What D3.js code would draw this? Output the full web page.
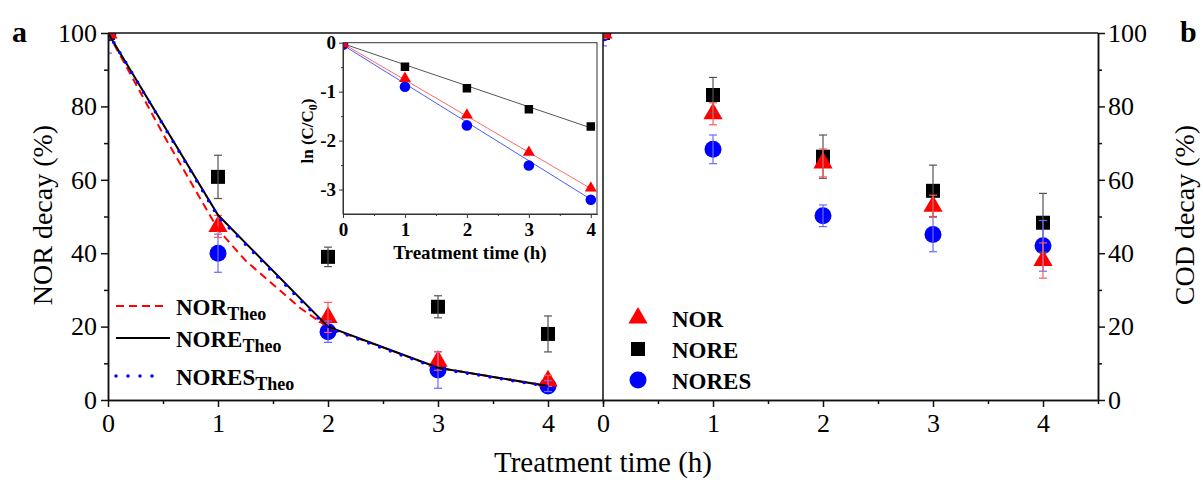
<!DOCTYPE html>
<html>
<head>
<meta charset="utf-8">
<script src="https://cdn.jsdelivr.net/npm/d3@7"></script>
<style>
  body { margin: 0; background: #fff; }
  svg text { font-family: "Liberation Serif", "Times New Roman", serif; }
</style>
</head>
<body>
<div id="chart"></div>
<script>
// ---- data ----
const hours = [0, 1, 2, 3, 4];

// (a) NOR decay (%)
const decayNOR = [100, 47.3, 22.5, 10.6, 5.2];
const decayNORErr = [1.5, 3, 4.1, 2.5, 1.5];
const decayNORE = [100, 60.8, 39, 25.4, 18];
const decayNOREErr = [1, 5.9, 2.65, 3, 4.9];
const decayNORES = [100, 40, 18.6, 8.2, 3.8];
const decayNORESErr = [5.5, 5.2, 2.9, 5, 1.5];

// theoretical curves
const theoNORTimes = [0, 0.5, 1, 1.25, 1.5, 1.75, 2, 3, 4];
const theoNOR = [100, 72.5, 46.5, 38, 31.5, 25, 19.8, 8.8, 3.8];
const theoNORE = [100, 50.4, 20, 8.8, 3.8];
const theoNORES = [100, 50, 19.6, 8.6, 3.7];

// (b) COD decay (%)
const codNOR = [100, 78, 64.6, 52.8, 38];
const codNORErr = [1.5, 3, 3.8, 3, 4.8];
const codNORE = [100, 83.1, 66.3, 57, 48.3];
const codNOREErr = [0.5, 4.8, 5.9, 7, 8];
const codNORES = [100, 68.3, 50.2, 45.1, 42];
const codNORESErr = [3.5, 3.9, 2.95, 4.7, 6.9];

// inset ln(C/C0)
const lnNOR = [-0.02, -0.73, -1.48, -2.24, -2.97];
const lnNORE = [-0.02, -0.49, -0.93, -1.36, -1.71];
const lnNORES = [-0.04, -0.9, -1.69, -2.51, -3.21];
const fitTimes = [0, 4];
const fitNOR = [-0.02, -2.98];
const fitNORE = [-0.02, -1.74];
const fitNORES = [-0.05, -3.2];

const width = 1203, height = 480;
const serif = '"Liberation Serif", "Times New Roman", serif';

const svg = d3.select("#chart").append("svg")
  .attr("width", width).attr("height", height);

// scales
const xL = d3.scaleLinear().domain([0, 4.5]).range([108, 603]);
const xR = d3.scaleLinear().domain([0, 4.5]).range([603, 1098]);
const y = d3.scaleLinear().domain([0, 100]).range([400, 33]);
const xi = d3.scaleLinear().domain([0, 4.1]).range([343, 597]);
const yi = d3.scaleLinear().domain([-3.5, 0]).range([214, 42.7]);

const defs = svg.append("defs");
function clip(id, x0, y0, x1, y1) {
  defs.append("clipPath").attr("id", id).append("rect")
    .attr("x", x0).attr("y", y0).attr("width", x1 - x0).attr("height", y1 - y0);
}
clip("clipL", xL(0), y(100), xL(4.5), y(0));
clip("clipR", xR(0), y(100), xR(4.5), y(0));
clip("clipI", xi(0), yi(0), xi(4.1), yi(-3.5));

const sym = {
  tri: d3.symbolTriangle,
  sq: d3.symbolSquare,
  circ: d3.symbolCircle
};

function markers(g, xs, ys, xS, yS, type, size, color) {
  g.selectAll(null)
    .data(xs.map((t, i) => [t, ys[i]]))
    .join("path")
    .attr("transform", d => `translate(${xS(d[0])},${yS(d[1])})`)
    .attr("d", d3.symbol().type(sym[type]).size(size))
    .attr("fill", color);
}

function errorBars(g, xs, ys, errs, xS, yS, color) {
  const data = xs.map((t, i) => [t, ys[i], errs[i]]);
  const eg = g.append("g").attr("stroke", color).attr("stroke-width", 1.2);
  eg.selectAll(null).data(data).join("line")
    .attr("x1", d => xS(d[0])).attr("x2", d => xS(d[0]))
    .attr("y1", d => yS(d[1] - d[2])).attr("y2", d => yS(d[1] + d[2]));
  [-1, 1].forEach(s => {
    eg.selectAll(null).data(data).join("line")
      .attr("x1", d => xS(d[0]) - 4).attr("x2", d => xS(d[0]) + 4)
      .attr("y1", d => yS(d[1] + s * d[2])).attr("y2", d => yS(d[1] + s * d[2]));
  });
}

// ---- panel a ----
const gA = svg.append("g").attr("clip-path", "url(#clipL)");
markers(gA, hours, decayNORE, xL, y, "sq", 196, "#000");
markers(gA, hours, decayNORES, xL, y, "circ", 227, "#0000ff");
markers(gA, hours, decayNOR, xL, y, "tri", 160, "#ff0000");
errorBars(gA, hours, decayNORE, decayNOREErr, xL, y, "#555");
errorBars(gA, hours, decayNORES, decayNORESErr, xL, y, "#6a6aff");
errorBars(gA, hours, decayNOR, decayNORErr, xL, y, "#ff5a5a");

const lineA = d3.line().x(d => xL(d[0])).y(d => y(d[1]));
gA.append("path")
  .attr("d", lineA(theoNORTimes.map((t, i) => [t, theoNOR[i]])))
  .attr("fill", "none").attr("stroke", "#ff0000").attr("stroke-width", 2)
  .attr("stroke-dasharray", "8,5");
gA.append("path")
  .attr("d", lineA(hours.map((t, i) => [t, theoNORE[i]])))
  .attr("fill", "none").attr("stroke", "#000").attr("stroke-width", 2);
gA.append("path")
  .attr("d", lineA(hours.map((t, i) => [t, theoNORES[i]])))
  .attr("fill", "none").attr("stroke", "#0000ff").attr("stroke-width", 3.5)
  .attr("stroke-linecap", "round").attr("stroke-dasharray", "0,11.5");

// ---- panel b ----
const gB = svg.append("g").attr("clip-path", "url(#clipR)");
markers(gB, hours, codNORE, xR, y, "sq", 196, "#000");
markers(gB, hours, codNORES, xR, y, "circ", 227, "#0000ff");
markers(gB, hours, codNOR, xR, y, "tri", 160, "#ff0000");
errorBars(gB, hours, codNORE, codNOREErr, xR, y, "#555");
errorBars(gB, hours, codNORES, codNORESErr, xR, y, "#6a6aff");
errorBars(gB, hours, codNOR, codNORErr, xR, y, "#ff5a5a");

// ---- main axes ----
function styleAxis(g, size, weight) {
  g.attr("font-family", serif).attr("font-size", size).attr("font-weight", weight || "normal");
  g.selectAll("path, line").attr("stroke", "#111").attr("stroke-width", 1.5);
  g.selectAll("text").attr("fill", "#000");
}

const yMajor = [0, 20, 40, 60, 80, 100];
const yMinor = [10, 30, 50, 70, 90];
const xMajor = [0, 1, 2, 3, 4];
const xMinor = [0.5, 1.5, 2.5, 3.5, 4.5];
const fmtInt = d3.format("d");

svg.append("g").attr("transform", `translate(${xL(0)},0)`)
  .call(d3.axisLeft(y).tickValues(yMajor).tickSize(7).tickPadding(4).tickFormat(fmtInt).tickSizeOuter(0))
  .call(g => styleAxis(g, 26));
svg.append("g").attr("transform", `translate(${xL(0)},0)`)
  .call(d3.axisLeft(y).tickValues(yMinor).tickSize(4).tickFormat("").tickSizeOuter(0))
  .call(g => styleAxis(g, 26));

svg.append("g").attr("transform", `translate(${xR(4.5)},0)`)
  .call(d3.axisRight(y).tickValues(yMajor).tickSize(7).tickPadding(3).tickFormat(fmtInt).tickSizeOuter(0))
  .call(g => styleAxis(g, 26));
svg.append("g").attr("transform", `translate(${xR(4.5)},0)`)
  .call(d3.axisRight(y).tickValues(yMinor).tickSize(4).tickFormat("").tickSizeOuter(0))
  .call(g => styleAxis(g, 26));

[xL, xR].forEach(xs => {
  svg.append("g").attr("transform", `translate(0,${y(0)})`)
    .call(d3.axisBottom(xs).tickValues(xMajor).tickSize(7).tickPadding(7).tickFormat(fmtInt).tickSizeOuter(0))
    .call(g => styleAxis(g, 26));
  svg.append("g").attr("transform", `translate(0,${y(0)})`)
    .call(d3.axisBottom(xs).tickValues(xMinor).tickSize(4).tickFormat("").tickSizeOuter(0))
    .call(g => styleAxis(g, 26));
});

// top border and panel divider
svg.append("line").attr("x1", xL(0)).attr("x2", xR(4.5)).attr("y1", y(100)).attr("y2", y(100))
  .attr("stroke", "#111").attr("stroke-width", 1.5);
svg.append("line").attr("x1", xR(0)).attr("x2", xR(0)).attr("y1", y(100)).attr("y2", y(0))
  .attr("stroke", "#111").attr("stroke-width", 1.5);

// titles
svg.append("text").attr("x", 603).attr("y", 472).attr("text-anchor", "middle")
  .attr("font-size", 29).text("Treatment time (h)");
svg.append("text").attr("transform", "translate(52,215) rotate(-90)")
  .attr("text-anchor", "middle").attr("font-size", 28).text("NOR decay (%)");
svg.append("text").attr("transform", "translate(1194,215) rotate(-90)")
  .attr("text-anchor", "middle").attr("font-size", 28).text("COD decay (%)");
svg.append("text").attr("x", 12).attr("y", 42).attr("font-size", 30)
  .attr("font-weight", "bold").text("a");
svg.append("text").attr("x", 1180).attr("y", 42).attr("font-size", 30)
  .attr("font-weight", "bold").text("b");

// ---- legend a ----
const legA = [
  { name: "NOR", color: "#ff0000", dash: "8,5", w: 2, cap: "butt", y: 306, x2: 166 },
  { name: "NORE", color: "#000", dash: null, w: 2, cap: "butt", y: 338, x2: 170 },
  { name: "NORES", color: "#0000ff", dash: "0,12", w: 3.5, cap: "round", y: 376, x2: 154 }
];
legA.forEach(d => {
  svg.append("line").attr("x1", 116).attr("x2", d.x2).attr("y1", d.y).attr("y2", d.y)
    .attr("stroke", d.color).attr("stroke-width", d.w).attr("stroke-linecap", d.cap)
    .attr("stroke-dasharray", d.dash);
  const t = svg.append("text").attr("x", 176).attr("y", d.y + 9)
    .attr("font-size", 23).attr("font-weight", "bold");
  t.append("tspan").text(d.name);
  t.append("tspan").attr("dy", 5).attr("font-size", 18).text("Theo");
});

// ---- legend b ----
const legB = [
  { name: "NOR", type: "tri", size: 160, color: "#ff0000", y: 318 },
  { name: "NORE", type: "sq", size: 196, color: "#000", y: 349 },
  { name: "NORES", type: "circ", size: 227, color: "#0000ff", y: 380 }
];
legB.forEach(d => {
  svg.append("path").attr("transform", `translate(638,${d.y})`)
    .attr("d", d3.symbol().type(sym[d.type]).size(d.size)).attr("fill", d.color);
  svg.append("text").attr("x", 672).attr("y", d.y + 9)
    .attr("font-size", 23).attr("font-weight", "bold").text(d.name);
});

// ---- inset ----
svg.append("rect").attr("x", xi(0)).attr("y", yi(0))
  .attr("width", xi(4.1) - xi(0)).attr("height", yi(-3.5) - yi(0))
  .attr("fill", "#fff");
const gI = svg.append("g").attr("clip-path", "url(#clipI)");
const lineI = d3.line().x(d => xi(d[0])).y(d => yi(d[1]));
[[fitNORE, "#555"], [fitNOR, "#ff6a6a"], [fitNORES, "#4a5aff"]].forEach(([f, c]) => {
  gI.append("path").attr("d", lineI(fitTimes.map((t, i) => [t, f[i]])))
    .attr("fill", "none").attr("stroke", c).attr("stroke-width", 1);
});
markers(gI, hours, lnNORE, xi, yi, "sq", 72, "#000");
markers(gI, hours, lnNORES, xi, yi, "circ", 88, "#0000ff");
markers(gI, hours, lnNOR, xi, yi, "tri", 62, "#ff0000");

svg.append("rect").attr("x", xi(0)).attr("y", yi(0))
  .attr("width", xi(4.1) - xi(0)).attr("height", yi(-3.5) - yi(0))
  .attr("fill", "none").attr("stroke", "#333").attr("stroke-width", 1);

const fmtI = d => d === 0 ? "0" : "-" + Math.abs(d);
svg.append("g").attr("transform", `translate(${xi(0)},0)`)
  .call(d3.axisLeft(yi).tickValues([0, -1, -2, -3]).tickSize(4).tickPadding(3).tickFormat(fmtI).tickSizeOuter(0))
  .call(g => styleAxis(g, 19, "bold"))
  .call(g => g.selectAll("path, line").attr("stroke-width", 1).attr("stroke", "#333"));
svg.append("g").attr("transform", `translate(${xi(0)},0)`)
  .call(d3.axisLeft(yi).tickValues([-0.5, -1.5, -2.5]).tickSize(2).tickFormat("").tickSizeOuter(0))
  .call(g => g.selectAll("path, line").attr("stroke-width", 1).attr("stroke", "#333"));
svg.append("g").attr("transform", `translate(0,${yi(-3.5)})`)
  .call(d3.axisBottom(xi).tickValues(xMajor).tickSize(4).tickPadding(5).tickFormat(fmtInt).tickSizeOuter(0))
  .call(g => styleAxis(g, 19, "bold"))
  .call(g => g.selectAll("path, line").attr("stroke-width", 1).attr("stroke", "#333"));
svg.append("g").attr("transform", `translate(0,${yi(-3.5)})`)
  .call(d3.axisBottom(xi).tickValues([0.5, 1.5, 2.5, 3.5]).tickSize(2).tickFormat("").tickSizeOuter(0))
  .call(g => g.selectAll("path, line").attr("stroke-width", 1).attr("stroke", "#333"));

svg.append("text").attr("x", 470).attr("y", 259).attr("text-anchor", "middle")
  .attr("font-size", 19).attr("font-weight", "bold").text("Treatment time (h)");
const lnLab = svg.append("text").attr("transform", "translate(313,131) rotate(-90)")
  .attr("text-anchor", "middle").attr("font-size", 17).attr("font-weight", "bold");
lnLab.append("tspan").text("ln (C/C");
lnLab.append("tspan").attr("dy", 4).attr("font-size", 12).text("0");
lnLab.append("tspan").attr("dy", -4).text(")");
</script>
</body>
</html>
